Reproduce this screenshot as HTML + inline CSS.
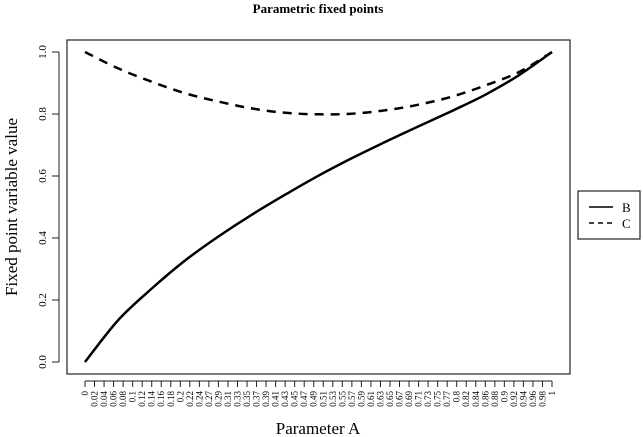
<!DOCTYPE html>
<html><head><meta charset="utf-8"><style>
body{margin:0;background:#fff;}
svg{display:block;font-family:"Liberation Serif",serif;}
</style></head><body>
<svg width="643" height="437" viewBox="0 0 643 437">
<text x="318" y="13" text-anchor="middle" font-size="13" font-weight="bold">Parametric fixed points</text>
<rect x="67" y="40" width="503" height="334" fill="none" stroke="#222" stroke-width="1.2"/>
<g id="yaxis"></g>
<g id="xaxis"></g>
<g id="series"></g>
<text transform="translate(17,207) rotate(-90)" text-anchor="middle" font-size="17">Fixed point variable value</text>
<text x="318" y="434" text-anchor="middle" font-size="17">Parameter A</text>
<g>
<rect x="578" y="191" width="62" height="48" fill="#fff" stroke="#222" stroke-width="1.2"/>
<line x1="589" y1="207" x2="613" y2="207" stroke="#000" stroke-width="1.5"/>
<text x="622" y="212" font-size="13">B</text>
<line x1="589" y1="223" x2="613" y2="223" stroke="#000" stroke-width="1.5" stroke-dasharray="5,4"/>
<text x="622" y="228" font-size="13">C</text>
</g>
</svg>
<script>
const xLabels=["0","0.02","0.04","0.06","0.08","0.1","0.12","0.14","0.16","0.18","0.2","0.22","0.24","0.27","0.29","0.31","0.33","0.35","0.37","0.39","0.41","0.43","0.45","0.47","0.49","0.51","0.53","0.55","0.57","0.59","0.61","0.63","0.65","0.67","0.69","0.71","0.73","0.75","0.77","0.8","0.82","0.84","0.86","0.88","0.9","0.92","0.94","0.96","0.98","1"];
const yTicks=[0,0.2,0.4,0.6,0.8,1.0];
const paramA=[0,0.071,0.143,0.214,0.286,0.357,0.429,0.5,0.571,0.643,0.714,0.786,0.857,0.929,1];
const seriesB=[0,0.135,0.237,0.327,0.405,0.475,0.54,0.601,0.657,0.71,0.76,0.81,0.862,0.925,1];
const seriesC=[1,0.947,0.904,0.867,0.84,0.818,0.804,0.799,0.801,0.812,0.83,0.856,0.892,0.935,1];
const NS="http://www.w3.org/2000/svg";
const X0=85,X1=552,Y0=362,Y1=52;
function sx(v){return X0+v*(X1-X0);}
function sy(v){return Y0-v*(Y0-Y1);}
function mk(tag,attrs,parent){const e=document.createElementNS(NS,tag);for(const k in attrs)e.setAttribute(k,attrs[k]);parent.appendChild(e);return e;}
const ya=document.getElementById('yaxis');
mk('line',{x1:59,x2:59,y1:sy(0),y2:sy(1),stroke:'#222'},ya);
yTicks.forEach(t=>{
  const l=mk('line',{x1:52,x2:59,y1:sy(t),y2:sy(t),stroke:'#222'},ya);
  
  
  const tx=mk('text',{transform:`translate(46,${sy(t)}) rotate(-90)`,'text-anchor':'middle','font-size':'11'},ya);
  tx.textContent=t.toFixed(1);
  
  
});
const xa=document.getElementById('xaxis');
const n=xLabels.length;
function ix(i){return X0+i*(X1-X0)/(n-1);}
mk('line',{x1:ix(0),x2:ix(n-1),y1:381,y2:381,stroke:'#222'},xa);
xLabels.forEach((lab,i)=>{
  const l=mk('line',{x1:ix(i),x2:ix(i),y1:381,y2:387,stroke:'#222'},xa);
  
  
  const tx=mk('text',{transform:`translate(${ix(i)+3},391) rotate(-90)`,'text-anchor':'end','font-size':'9'},xa);
  tx.textContent=lab;
  
  
});
const sg=document.getElementById('series');
function path(vals){
  const p=vals.map((v,i)=>[sx(paramA[i]),sy(v)]);
  let d='M'+p[0][0].toFixed(1)+','+p[0][1].toFixed(1);
  for(let i=0;i<p.length-1;i++){
    const p0=p[Math.max(i-1,0)],p1=p[i],p2=p[i+1],p3=p[Math.min(i+2,p.length-1)];
    const c1=[p1[0]+(p2[0]-p0[0])/6,p1[1]+(p2[1]-p0[1])/6];
    const c2=[p2[0]-(p3[0]-p1[0])/6,p2[1]-(p3[1]-p1[1])/6];
    d+=` C${c1[0].toFixed(1)},${c1[1].toFixed(1)} ${c2[0].toFixed(1)},${c2[1].toFixed(1)} ${p2[0].toFixed(1)},${p2[1].toFixed(1)}`;
  }
  return d;
}
const pb=mk('path',{d:path(seriesB),fill:'none',stroke:'#000','stroke-width':'2.5'},sg);


const pc=mk('path',{d:path(seriesC),fill:'none',stroke:'#000','stroke-width':'2.5','stroke-dasharray':'9,7'},sg);


</script>
</body></html>
